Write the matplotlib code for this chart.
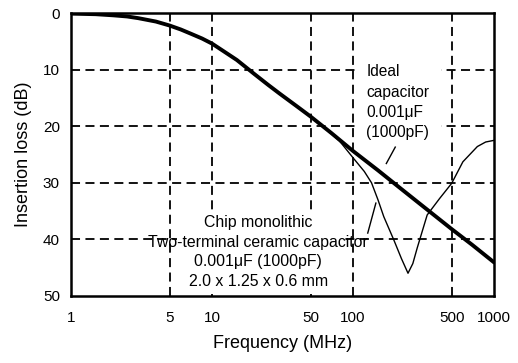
import matplotlib
matplotlib.use("Agg")
import matplotlib.pyplot as plt
from matplotlib.patches import Rectangle

plt.rcParams["font.family"] = ["Liberation Sans", "DejaVu Sans"]

# insertion loss (MHz, dB)
ideal_freq = [1, 1.5, 2, 2.5, 3, 4, 5, 6, 7, 8.5, 10, 12, 15, 20, 25, 30, 40, 50, 70,
              100, 150, 200, 300, 500, 700, 1000]
ideal_loss = [0.1, 0.2, 0.4, 0.6, 0.9, 1.5, 2.2, 2.9, 3.6, 4.5, 5.4, 6.7, 8.3, 10.8, 12.7, 14.2,
              16.5, 18.3, 21.2, 24.4, 27.8, 30.3, 33.8, 38.2, 41.0, 44.1]

chip_freq = [1, 1.5, 2, 2.5, 3, 4, 5, 6, 7, 8.5, 10, 12, 15, 20, 25, 30, 40, 50, 60, 80,
             100, 120, 135, 150, 165, 195, 220, 245, 265, 285, 335, 410, 500, 600, 760, 870, 1000]
chip_loss = [0.1, 0.2, 0.4, 0.6, 0.9, 1.5, 2.2, 2.9, 3.6, 4.5, 5.4, 6.7, 8.3, 10.8, 12.7, 14.2,
             16.5, 18.3, 19.9, 22.6, 25.6, 28.0, 30.0, 33.0, 36.0, 40.2, 43.4, 46.0, 44.3, 41.5,
             35.7, 32.8, 30.1, 26.3, 23.6, 22.8, 22.5]

x_ticks = [1, 5, 10, 50, 100, 500, 1000]
y_ticks = [0, 10, 20, 30, 40, 50]

ideal_lines = ["Ideal", "capacitor", "0.001\u03bcF", "(1000pF)"]
chip_lines = ["Chip monolithic", "Two-terminal ceramic capacitor",
              "0.001\u03bcF (1000pF)", "2.0 x 1.25 x 0.6 mm"]

fig = plt.figure(figsize=(5.18, 3.63), dpi=100)
ax = fig.add_axes([0.137, 0.185, 0.817, 0.779])
ax.set_xscale("log")
ax.set_xlim(1, 1000)
ax.set_ylim(50, 0)

# dashed grid
for xv in x_ticks[1:-1]:
    ax.axvline(xv, color="black", linestyle=(0, (5, 3)), linewidth=1.3, zorder=1)
for yv in y_ticks[1:-1]:
    ax.axhline(yv, color="black", linestyle=(0, (5, 3)), linewidth=1.3, zorder=1)

# white patches behind the labels (hide part of the grid, as in the original)
ax.add_patch(Rectangle((5.6, 35.4), 82.0, 14.2, facecolor="white", edgecolor="none", zorder=2))
ax.add_patch(Rectangle((106.0, 8.6), 314.0, 14.0, facecolor="white", edgecolor="none", zorder=2))

ax.plot(chip_freq, chip_loss, color="black", linewidth=1.0, zorder=4)
ax.plot(ideal_freq, ideal_loss, color="black", linewidth=2.8, zorder=5,
        solid_joinstyle="round", solid_capstyle="round")

for txt, yv in zip(ideal_lines, [10.4, 14.0, 17.6, 21.1]):
    ax.text(124, yv, txt, fontsize=11.2, ha="left", va="center", zorder=6)
for txt, yv in zip(chip_lines, [37.1, 40.5, 44.0, 47.5]):
    ax.text(21.2, yv, txt, fontsize=11.4, ha="center", va="center", zorder=6)

# leader lines
ax.plot([127, 145], [38.9, 33.6], color="black", linewidth=1.0, zorder=6)
ax.plot([172, 199], [26.6, 23.7], color="black", linewidth=1.0, zorder=6)

ax.set_xticks(x_ticks)
ax.set_xticklabels([str(v) for v in x_ticks])
ax.set_yticks(y_ticks)
ax.minorticks_off()
ax.tick_params(axis="x", length=0, pad=11, labelsize=11)
ax.tick_params(axis="y", length=0, pad=8, labelsize=11)

for sp in ax.spines.values():
    sp.set_linewidth(1.8)
    sp.set_zorder(7)

ax.set_xlabel("Frequency (MHz)", fontsize=13, labelpad=7)
ax.set_ylabel("Insertion loss (dB)", fontsize=13, labelpad=8)

fig.savefig("out.png", dpi=100)
